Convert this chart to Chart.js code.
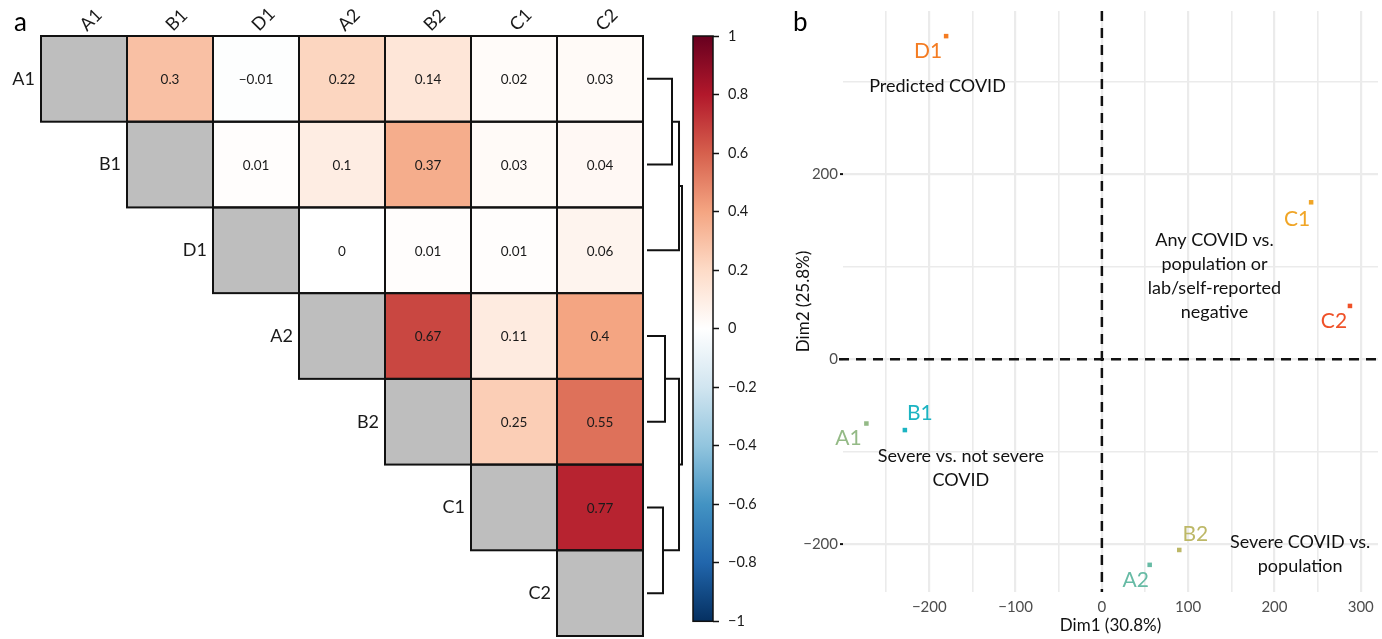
<!DOCTYPE html>
<html><head><meta charset="utf-8">
<script src="https://cdn.jsdelivr.net/npm/chart.js@4.4.1/dist/chart.umd.min.js"></script>
<style>
html,body{margin:0;padding:0;background:#fff;}
body{width:1382px;height:639px;position:relative;overflow:hidden;}
canvas{position:absolute;}
</style></head><body>
<canvas id="heat" width="645" height="639" style="left:0;top:0"></canvas>
<canvas id="dendro" width="44" height="639" style="left:644px;top:0"></canvas>
<canvas id="cbar" width="90" height="639" style="left:686px;top:0"></canvas>
<canvas id="pca" width="592" height="639" style="left:790px;top:0"></canvas>
<script>
// ---------------- DATA ----------------
const variables = ['A1','B1','D1','A2','B2','C1','C2'];
// upper-triangle correlations, each row lists values against the following variables
const rowA1 = [0.3, -0.01, 0.22, 0.14, 0.02, 0.03];
const rowB1 = [0.01, 0.1, 0.37, 0.03, 0.04];
const rowD1 = [0, 0.01, 0.01, 0.06];
const rowA2 = [0.67, 0.11, 0.4];
const rowB2 = [0.25, 0.55];
const rowC1 = [0.77];
const rowC2 = [];
const corrRows = [rowA1, rowB1, rowD1, rowA2, rowB2, rowC1, rowC2];

const colorbarTicks = [1, 0.8, 0.6, 0.4, 0.2, 0, -0.2, -0.4, -0.6, -0.8, -1];

// dendrogram merges: [left node, right node, relative height]
const dendroMerges = [
  ['A1', 'B1', 0.706],
  ['m0', 'D1', 0.912],
  ['A2', 'B2', 0.50],
  ['C1', 'C2', 0.441],
  ['m2', 'm3', 0.912],
  ['m1', 'm4', 1.0]
];

// PCA coordinates
const pointNames = ['D1', 'C1', 'C2', 'A1', 'B1', 'B2', 'A2'];
const dim1 = [-180.5, 242.5, 287.5, -272.9, -228.3, 89.7, 55.4];
const dim2 = [349.8, 169.9, 57.7, -69.6, -76.7, -206.5, -222.6];
const dim1Major = [-200, -100, 0, 100, 200, 300];
const dim1Minor = [-250, -150, -50, 50, 150, 250];
const dim2Major = [-200, 0, 200];
const dim2Minor = [-100, 100, 300];

const annotationTexts = [
  ['Predicted COVID'],
  ['Any COVID vs.', 'population or', 'lab/self-reported', 'negative'],
  ['Severe vs. not severe', 'COVID'],
  ['Severe COVID vs.', 'population']
];
const annotationX = [-190.5, 130.5, -163.4, 229.8];
const annotationY = [295.7, 90.3, -117.7, -210.6];

// ---------------- STYLE ----------------
const FONT = 'Lato, "Open Sans", sans-serif';
const palette = ['#67001F','#B2182B','#D6604D','#F4A582','#FDDBC7','#FFFFFF','#D1E5F0','#92C5DE','#4393C3','#2166AC','#053061'];
const pointColors = ['#F47C22', '#F0A526', '#EF5128', '#94BA86', '#1CB4C2', '#BDB867', '#67BBA5'];
const labelOffsets = [[-18,15],[-14,17],[-16,15],[-18,15],[15,-17],[16,-16],[-14,15]];

function hexToRgb(h){ return [parseInt(h.substr(1,2),16),parseInt(h.substr(3,2),16),parseInt(h.substr(5,2),16)]; }
function corrColor(v){
  const t = (1 - v) / 0.2;
  let i = Math.floor(t); if (i >= palette.length - 1) i = palette.length - 2; if (i < 0) i = 0;
  const f = t - i;
  const a = hexToRgb(palette[i]), b = hexToRgb(palette[i+1]);
  const c = a.map((av, k) => Math.round(av + (b[k] - av) * f));
  return `rgb(${c[0]},${c[1]},${c[2]})`;
}
function fmt(v){
  const r = Math.round(v * 100) / 100;
  return String(r).replace('-', '\u2212');
}

Chart.defaults.font.family = FONT;
Chart.defaults.animation = false;

// ---------------- HEATMAP ----------------
const heatPlugin = {
  id: 'heat',
  afterDatasetsDraw(chart) {
    const {ctx, scales: {x, y}} = chart;
    ctx.save();
    const n = variables.length;
    const cells = [];
    for (let r = 0; r < n; r++) {
      for (let c = r; c < n; c++) {
        const x0 = x.getPixelForValue(c), x1 = x.getPixelForValue(c + 1);
        const y0 = y.getPixelForValue(r), y1 = y.getPixelForValue(r + 1);
        const v = c === r ? null : corrRows[r][c - r - 1];
        ctx.fillStyle = v === null ? '#BEBEBE' : corrColor(v);
        ctx.fillRect(x0, y0, x1 - x0, y1 - y0);
        cells.push([x0, y0, x1, y1, v]);
      }
    }
    ctx.strokeStyle = '#111';
    ctx.lineWidth = 2;
    cells.forEach(([x0, y0, x1, y1]) => ctx.strokeRect(x0, y0, x1 - x0, y1 - y0));
    ctx.fillStyle = '#1a1a1a';
    ctx.font = '13.5px ' + FONT;
    ctx.textAlign = 'center';
    ctx.textBaseline = 'middle';
    cells.forEach(([x0, y0, x1, y1, v]) => {
      if (v !== null) ctx.fillText(fmt(v), (x0 + x1) / 2, (y0 + y1) / 2 + 1);
    });
    // row labels
    ctx.font = '18px ' + FONT;
    ctx.textAlign = 'right';
    for (let r = 0; r < n; r++) {
      ctx.fillText(variables[r], x.getPixelForValue(r) - 6, y.getPixelForValue(r + 0.5));
    }
    // column labels (rotated)
    ctx.textAlign = 'left';
    for (let c = 0; c < n; c++) {
      ctx.save();
      ctx.translate(x.getPixelForValue(c + 0.5) - 1, y.getPixelForValue(0) - 8);
      ctx.rotate(-Math.PI / 4);
      ctx.fillText(variables[c], 0, 0);
      ctx.restore();
    }
    // panel letter
    ctx.font = '26px ' + FONT;
    ctx.textAlign = 'left';
    ctx.textBaseline = 'alphabetic';
    ctx.fillStyle = '#000';
    ctx.fillText('a', 14, 31);
    ctx.restore();
  }
};
new Chart(document.getElementById('heat'), {
  type: 'scatter',
  data: { datasets: [] },
  options: {
    responsive: false,
    layout: { padding: { left: 41, top: 36, right: 2, bottom: 3 } },
    plugins: { legend: { display: false }, tooltip: { enabled: false } },
    scales: {
      x: { type: 'linear', min: 0, max: variables.length, display: false },
      y: { type: 'linear', min: 0, max: variables.length, reverse: true, display: false }
    }
  },
  plugins: [heatPlugin]
});

// ---------------- DENDROGRAM ----------------
const nodes = {};
variables.forEach((v, i) => nodes[v] = { h: 0, y: i + 0.5 });
const dendroSets = [];
dendroMerges.forEach((m, i) => {
  const a = nodes[m[0]], b = nodes[m[1]], h = m[2];
  nodes['m' + i] = { h: h, y: (a.y + b.y) / 2 };
  dendroSets.push({
    data: [{x: a.h, y: a.y}, {x: h, y: a.y}, {x: h, y: b.y}, {x: b.h, y: b.y}],
    showLine: true, borderColor: '#111', borderWidth: 2, pointRadius: 0, fill: false,
    borderCapStyle: 'square', borderJoinStyle: 'miter', clip: false
  });
});
new Chart(document.getElementById('dendro'), {
  type: 'scatter',
  data: { datasets: dendroSets },
  options: {
    responsive: false,
    layout: { padding: { left: 4, right: 6, top: 36, bottom: 3 } },
    plugins: { legend: { display: false }, tooltip: { enabled: false } },
    scales: {
      x: { type: 'linear', min: 0, max: 1, display: false },
      y: { type: 'linear', min: 0, max: variables.length, reverse: true, display: false }
    }
  }
});

// ---------------- COLORBAR ----------------
const cbarPlugin = {
  id: 'cbar',
  beforeDatasetsDraw(chart) {
    const {ctx, chartArea: a, scales: {y}} = chart;
    const top = y.getPixelForValue(1), bot = y.getPixelForValue(-1);
    const g = ctx.createLinearGradient(0, top, 0, bot);
    palette.forEach((c, i) => g.addColorStop(i / (palette.length - 1), c));
    ctx.save();
    ctx.fillStyle = g;
    ctx.fillRect(a.left, top, a.right - a.left, bot - top);
    ctx.strokeStyle = '#111';
    ctx.lineWidth = 1.5;
    ctx.strokeRect(a.left, top, a.right - a.left, bot - top);
    ctx.restore();
  }
};
new Chart(document.getElementById('cbar'), {
  type: 'scatter',
  data: { datasets: [] },
  options: {
    responsive: false,
    layout: { padding: { left: 7, top: 36, bottom: 3, right: 0 } },
    plugins: { legend: { display: false }, tooltip: { enabled: false } },
    scales: {
      x: { type: 'linear', display: false, min: 0, max: 1 },
      y: {
        type: 'linear', position: 'right', min: -1, max: 1,
        afterFit(s) { s.width = 63; },
        afterBuildTicks(s) { s.ticks = colorbarTicks.map(v => ({ value: v })); },
        border: { display: false },
        grid: { drawOnChartArea: false, drawTicks: true, tickLength: 6, tickColor: '#111', tickWidth: 1.5 },
        ticks: { padding: 9, color: '#1a1a1a', font: { size: 14.5 }, autoSkip: false,
          callback: v => fmt(v) }
      }
    }
  },
  plugins: [cbarPlugin]
});

// ---------------- PCA SCATTER ----------------
const pcaPlugin = {
  id: 'pca',
  beforeDatasetsDraw(chart) {
    const {ctx, chartArea: a, scales: {x, y}} = chart;
    ctx.save();
    ctx.strokeStyle = '#111';
    ctx.lineWidth = 2.5;
    ctx.setLineDash([10, 7]);
    const px = x.getPixelForValue(0), py = y.getPixelForValue(0);
    ctx.beginPath(); ctx.moveTo(px, a.top); ctx.lineTo(px, a.bottom); ctx.stroke();
    ctx.beginPath(); ctx.moveTo(a.left - 4, py); ctx.lineTo(a.right, py); ctx.stroke();
    ctx.restore();
  },
  afterDatasetsDraw(chart) {
    const {ctx, scales: {x, y}} = chart;
    ctx.save();
    ctx.textAlign = 'center';
    ctx.textBaseline = 'middle';
    ctx.font = '21px ' + FONT;
    pointNames.forEach((n, i) => {
      ctx.fillStyle = pointColors[i];
      ctx.fillText(n, x.getPixelForValue(dim1[i]) + labelOffsets[i][0], y.getPixelForValue(dim2[i]) + labelOffsets[i][1]);
    });
    ctx.fillStyle = '#111';
    ctx.font = '18px ' + FONT;
    annotationTexts.forEach((lines, i) => {
      const cx = x.getPixelForValue(annotationX[i]), cy = y.getPixelForValue(annotationY[i]);
      const lh = 24;
      lines.forEach((t, k) => ctx.fillText(t, cx, cy + (k - (lines.length - 1) / 2) * lh));
    });
    ctx.font = '26px ' + FONT;
    ctx.textAlign = 'left';
    ctx.textBaseline = 'alphabetic';
    ctx.fillStyle = '#000';
    ctx.fillText('b', 3, 31);
    ctx.restore();
  }
};
const isMajorX = v => dim1Major.includes(v);
const isMajorY = v => dim2Major.includes(v);
new Chart(document.getElementById('pca'), {
  type: 'scatter',
  data: {
    datasets: [{
      data: dim1.map((v, i) => ({ x: v, y: dim2[i] })),
      pointStyle: 'rect', pointRadius: 3.2, pointBorderWidth: 0,
      pointBackgroundColor: pointColors, pointBorderColor: pointColors
    }]
  },
  options: {
    responsive: false,
    layout: { padding: { top: 7, right: 2, left: 0, bottom: 0 } },
    plugins: { legend: { display: false }, tooltip: { enabled: false } },
    scales: {
      x: {
        type: 'linear', min: -300, max: 320,
        afterFit(s) { s.height = 47; },
        afterBuildTicks(s) { s.ticks = dim1Major.concat(dim1Minor).sort((a, b) => a - b).map(v => ({ value: v })); },
        border: { display: false },
        grid: { color: '#EBEBEB', lineWidth: c => isMajorX(c.tick.value) ? 2.2 : 1.6, tickLength: 3, tickColor: 'rgba(0,0,0,0)' },
        ticks: { padding: 3, color: '#4D4D4D', font: { size: 15 }, autoSkip: false, maxRotation: 0,
          callback: v => isMajorX(v) ? fmt(v) : '' },
        title: { display: true, text: 'Dim1 (30.8%)', color: '#111', font: { size: 17 }, padding: { top: 0, bottom: 3 } }
      },
      y: {
        type: 'linear', min: -252, max: 377,
        afterFit(s) { s.width = 53; },
        afterBuildTicks(s) { s.ticks = dim2Major.concat(dim2Minor).sort((a, b) => a - b).map(v => ({ value: v })); },
        border: { display: false },
        grid: { color: '#EBEBEB', lineWidth: c => isMajorY(c.tick.value) ? 2.2 : 1.6, tickLength: 3,
          tickColor: c => isMajorY(c.tick.value) ? '#111' : 'rgba(0,0,0,0)', tickWidth: 2 },
        ticks: { padding: 2, color: '#4D4D4D', font: { size: 15 }, autoSkip: false,
          callback: v => isMajorY(v) ? fmt(v) : '' },
        title: { display: true, text: 'Dim2 (25.8%)', color: '#111', font: { size: 17 }, padding: { top: 3, bottom: 0 } }
      }
    }
  },
  plugins: [pcaPlugin]
});
</script>
</body></html>
